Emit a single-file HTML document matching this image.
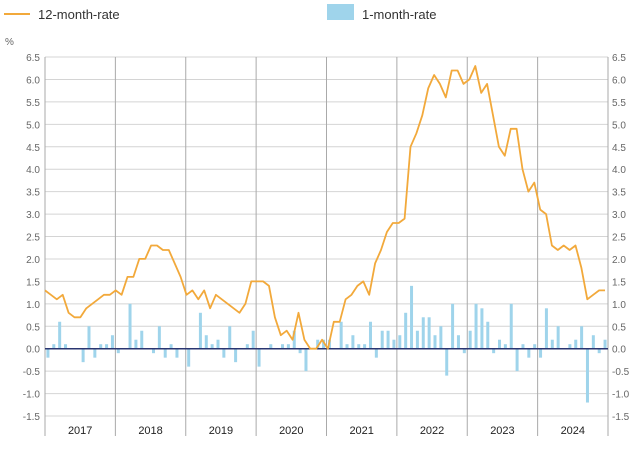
<!DOCTYPE html>
<html><head><meta charset="utf-8"><style>
body{margin:0;background:#fff;width:644px;height:447px;overflow:hidden;font-family:"Liberation Sans",sans-serif}
</style></head><body>
<svg id="chart" width="644" height="447" xmlns="http://www.w3.org/2000/svg">
<g>
<line x1="4" y1="14" x2="30" y2="14" stroke="#f2a93b" stroke-width="2"/>
<text x="38" y="19" font-size="13" fill="#333">12-month-rate</text>
<rect x="327" y="4" width="27" height="16" fill="#9fd4eb"/>
<text x="362" y="19" font-size="13" fill="#333">1-month-rate</text>
</g>
<text x="5" y="45" font-size="10" fill="#666">%</text>
<g id="grid"></g><g id="bars"></g><g id="line"></g><g id="labels"></g>
</svg>
<script>
const yearLabels=["2017","2018","2019","2020","2021","2022","2023","2024"];
const yTicks=[6.5,6.0,5.5,5.0,4.5,4.0,3.5,3.0,2.5,2.0,1.5,1.0,0.5,0.0,-0.5,-1.0,-1.5];
const rate12=[1.3,1.2,1.1,1.2,0.8,0.7,0.7,0.9,1.0,1.1,1.2,1.2,
1.3,1.2,1.6,1.6,2.0,2.0,2.3,2.3,2.2,2.2,1.9,1.6,
1.2,1.3,1.1,1.3,0.9,1.2,1.1,1.0,0.9,0.8,1.0,1.5,
1.5,1.5,1.4,0.7,0.3,0.4,0.2,0.8,0.2,0.0,0.0,0.2,0.0,0.6,0.6,1.1,1.2,1.4,1.5,1.2,1.9,2.2,2.6,2.8,2.8,
2.9,4.5,4.8,5.2,5.8,6.1,5.9,5.6,6.2,6.2,5.9,6.0,6.3,5.7,5.9,5.2,4.5,4.3,4.9,4.9,4.0,3.5,3.7,3.1,3.0,2.3,2.2,2.3,2.2,2.3,1.8,1.1,1.2,1.3,1.3];
const rate1=[-0.2,0.1,0.6,0.1,0,0,-0.3,0.5,-0.2,0.1,0.1,0.3,
-0.1,0,1.0,0.2,0.4,0,-0.1,0.5,-0.2,0.1,-0.2,0,
-0.4,0,0.8,0.3,0.1,0.2,-0.2,0.5,-0.3,0,0.1,0.4,
-0.4,0,0.1,0,0.1,0.1,0.4,-0.1,-0.5,0,0.2,0.2,
0.2,0,0.6,0.1,0.3,0.1,0.1,0.6,-0.2,0.4,0.4,0.2,
0.3,0.8,1.4,0.4,0.7,0.7,0.3,0.5,-0.6,1.0,0.3,-0.1,
0.4,1.0,0.9,0.6,-0.1,0.2,0.1,1.0,-0.5,0.1,-0.2,0.1,
-0.2,0.9,0.2,0.5,0,0.1,0.2,0.5,-1.2,0.3,-0.1,0.2];
const NS="http://www.w3.org/2000/svg";
const L=45,R=608,T=57,B=416,yMin=-1.5,yMax=6.5,nM=96;
const y=v=>T+(yMax-v)/(yMax-yMin)*(B-T);
const mw=(R-L)/nM;
const xBar=i=>L+(i+0.5)*mw;
const xLine=i=>L+i*(605-L)/(rate12.length-1);
function mk(tag,attrs,parent){const e=document.createElementNS(NS,tag);for(const k in attrs)e.setAttribute(k,attrs[k]);document.getElementById(parent).appendChild(e);return e;}
yTicks.forEach(t=>{
 const g=mk('line',{x1:L,x2:R,y1:y(t),y2:y(t),stroke:'#d4d4d4','stroke-width':1},'grid');
 
 
 const s=t.toFixed(1);
 const a=mk('text',{x:40,y:y(t)+4,'text-anchor':'end','font-size':10,fill:'#666'},'labels');a.textContent=s;
 
 
 const b=mk('text',{x:612,y:y(t)+4,'font-size':10,fill:'#666'},'labels');b.textContent=s;
 
 
});
for(let k=0;k<=yearLabels.length;k++){
 const xx=L+k*12*mw;
 const v=mk('line',{x1:xx,x2:xx,y1:T,y2:436,stroke:'#aaa','stroke-width':1},'grid');
 
 
}
yearLabels.forEach((yl,k)=>{
 const t=mk('text',{x:L+(k*12+6)*mw,y:434,'text-anchor':'middle','font-size':11,fill:'#222'},'labels');t.textContent=yl;
 
 
});
rate1.forEach((v,i)=>{
 const y0=y(0),yv=y(v);
 const r=mk('rect',{x:xBar(i)-1.5,y:Math.min(y0,yv),width:3,height:Math.abs(yv-y0),fill:'#9fd4eb'},'bars');
 
 
});
const z=mk('line',{x1:L,x2:R,y1:y(0),y2:y(0),stroke:'#2a3570','stroke-width':1.5},'bars');


const p=mk('polyline',{points:rate12.map((v,i)=>xLine(i).toFixed(1)+','+y(v).toFixed(1)).join(' '),fill:'none',stroke:'#f2a93b','stroke-width':1.8,'stroke-linejoin':'round'},'line');


</script>
</body></html>
